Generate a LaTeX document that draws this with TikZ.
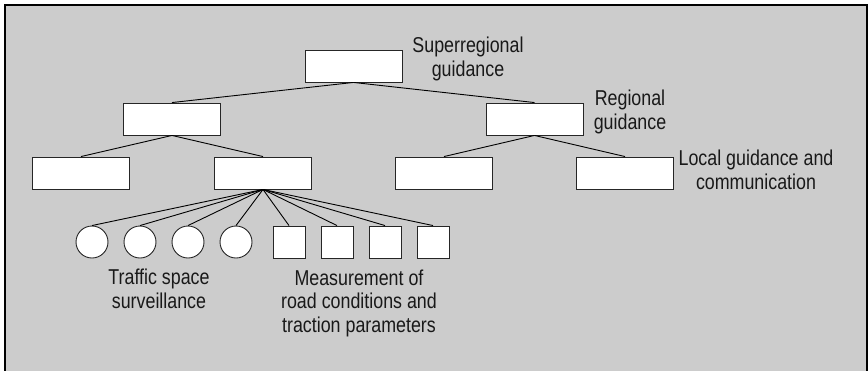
\documentclass[tikz,border=0pt]{standalone}
\usepackage{fontspec}
\setmainfont{Liberation Sans}[FakeStretch=0.83]
\begin{document}
\begin{tikzpicture}[x = 1pt, y = -1pt, line width = 0.9pt,
        unit/.style = {draw = black!85, fill = white, minimum width = 97pt, minimum height = 32pt, inner sep = 0pt},
        sensor/.style = {draw = black!85, fill = white, circle, minimum size = 32pt, inner sep = 0pt},
        gauge/.style = {draw = black!85, fill = white, minimum size = 32pt, inner sep = 0pt},
        lbl/.style = {align = center, inner sep = 0pt, text = black!90, font = \fontsize{21.5}{23.5}\selectfont}]
            \useasboundingbox (0,0) rectangle (868,370);
            \clip (0,0) rectangle (868,370);
            \draw[fill = black!20, line width = 1.2pt] (5,5) rectangle (867,380);

            % hierarchy
            \node[unit] (top) at (353.5,66) {};
            \node[unit] (regL) at (172,119) {};
            \node[unit] (regR) at (534.5,119) {};
            \node[unit] (loc1) at (81,173) {};
            \node[unit] (loc2) at (263,173) {};
            \node[unit] (loc3) at (444,173) {};
            \node[unit] (loc4) at (625,173) {};

            \draw (top.south) -- (regL.north);
            \draw (top.south) -- (regR.north);
            \draw (regL.south) -- (loc1.north);
            \draw (regL.south) -- (loc2.north);
            \draw (regR.south) -- (loc3.north);
            \draw (regR.south) -- (loc4.north);

            % field level
            \foreach \i/\x in {1/92, 2/140, 3/188, 4/236} {
                \node[sensor] (s\i) at (\x,242) {};
                \draw (loc2.south) -- (s\i.north);
            }
            \foreach \i/\x in {1/289, 2/337, 3/385, 4/433} {
                \node[gauge] (g\i) at (\x,242) {};
                \draw (loc2.south) -- (g\i.north);
            }

            \node[lbl] (topText) at (468,59) {Superregional\\guidance};
            \node[lbl] (regText) at (630,112) {Regional\\guidance};
            \node[lbl] (locText) at (756,170) {Local guidance and\\communication};
            \node[lbl] (sText) at (159,289) {Traffic space\\surveillance};
            \node[lbl] (gText) at (359,303) {Measurement of\\road conditions and\\traction parameters};
        \end{tikzpicture}
\end{document}
